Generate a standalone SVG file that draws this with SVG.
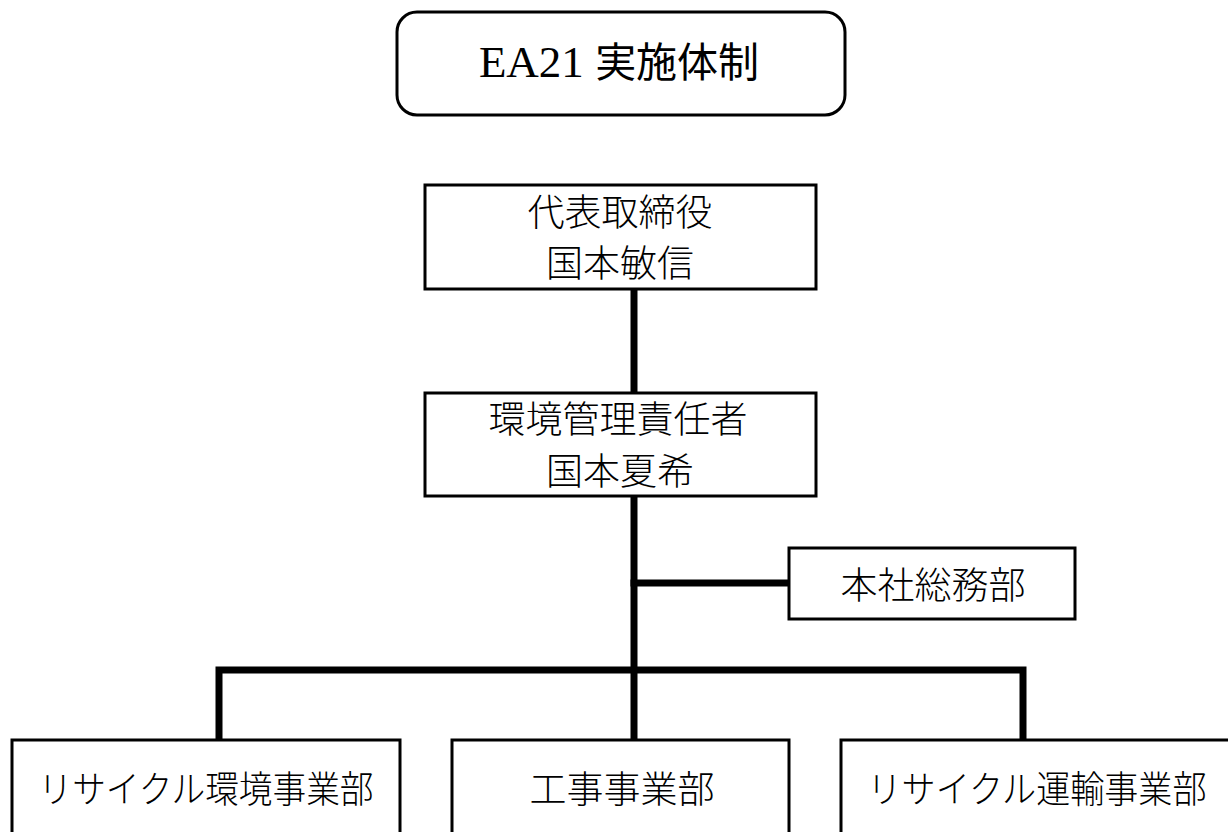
<svg xmlns="http://www.w3.org/2000/svg" width="1228" height="832" viewBox="0 0 1228 832">
<style>
.box{fill:#fff;stroke:#000;stroke-width:3}
.t{font-family:"Noto Sans CJK JP","Noto Sans CJK SC",sans-serif;font-size:37px;fill:#000;text-anchor:middle;font-weight:300}
.c{stroke:#000;stroke-width:7;fill:none;stroke-linecap:square}
</style>
<rect width="1228" height="832" fill="#fff"/>
<g id="connectors">
<line class="c" x1="634" y1="290" x2="634" y2="392"/>
<line class="c" x1="634" y1="497" x2="634" y2="738"/>
<line class="c" x1="634" y1="583" x2="788" y2="583"/>
<polyline class="c" points="219,738 219,670 1023,670 1023,738"/>
</g>
<g id="title">
<rect class="box" x="397" y="12" width="448" height="103" rx="20" ry="20"/>
<text x="619" y="77" text-anchor="middle" font-size="41" fill="#000"><tspan font-family="Liberation Serif,serif" font-size="45">EA21 </tspan><tspan font-family="Noto Sans CJK JP,sans-serif">実施体制</tspan></text>
</g>
<g id="ceo">
<rect class="box" x="425" y="185" width="391" height="104"/>
<text class="t" x="620" y="226">代表取締役</text>
<text class="t" x="620" y="277">国本敏信</text>
</g>
<g id="manager">
<rect class="box" x="425" y="393" width="391" height="103"/>
<text class="t" x="618" y="433">環境管理責任者</text>
<text class="t" x="620" y="485">国本夏希</text>
</g>
<g id="soumu">
<rect class="box" x="789" y="548" width="286" height="71"/>
<text class="t" x="933" y="599">本社総務部</text>
</g>
<g id="recycle-env">
<rect class="box" x="12" y="740" width="388" height="110"/>
<text class="t" x="206" y="803" textLength="335" lengthAdjust="spacingAndGlyphs">リサイクル環境事業部</text>
</g>
<g id="kouji">
<rect class="box" x="452" y="740" width="337" height="110"/>
<text class="t" x="622" y="803">工事事業部</text>
</g>
<g id="recycle-trans">
<rect class="box" x="841" y="740" width="400" height="110"/>
<text class="t" x="1037" y="803" textLength="339" lengthAdjust="spacingAndGlyphs">リサイクル運輸事業部</text>
</g>
</svg>
